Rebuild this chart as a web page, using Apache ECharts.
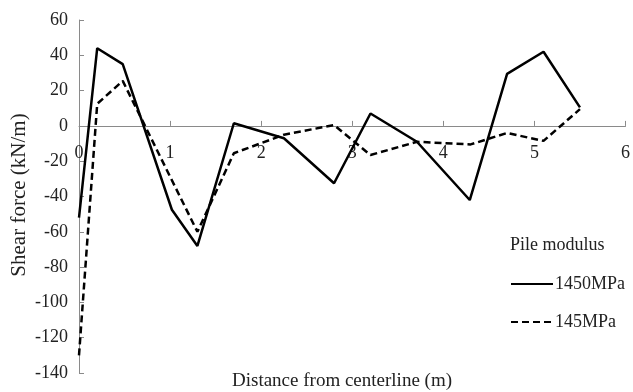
<!DOCTYPE html>
<html>
<head>
<meta charset="utf-8">
<script src="https://cdn.jsdelivr.net/npm/echarts@6/dist/echarts.min.js"></script>
<style>
  html, body { margin: 0; padding: 0; background: #fff; }
  #chart { width: 633px; height: 392px; }
</style>
</head>
<body>
<div id="chart"></div>
<script>
// Shear force along the section for two pile moduli
const distStiff = [0, 0.2, 0.48, 1.02, 1.3, 1.7, 2.25, 2.8, 3.2, 3.71, 4.29, 4.7, 5.1, 5.5];
const shearStiff = [-52, 44, 35, -47.5, -68, 1.5, -7, -32.5, 7, -9, -42, 29.5, 42, 10.5];

const distSoft = [0, 0.2, 0.48, 1.3, 1.7, 2.25, 2.8, 3.2, 3.71, 4.3, 4.7, 5.1, 5.5];
const shearSoft = [-130, 12.5, 25.5, -60, -15.5, -5, 0.5, -16.5, -9, -10.5, -4, -8.5, 9.5];

const seriesNames = ['1450MPa', '145MPa'];
const legendTitle = 'Pile modulus';
const xTitle = 'Distance from centerline (m)';
const yTitle = 'Shear force (kN/m)';

const xRange = [0, 6, 1];       // min, max, step
const yRange = [-140, 60, 20];  // min, max, step

const pairs = (xs, ys) => xs.map((x, i) => [x, ys[i]]);

const serif = '"Liberation Serif", "Times New Roman", serif';
const axisGray = '#8a8a8a';
const textColor = '#222';

const W = 633, H = 392;
const grid = { left: 79, right: 5, top: 20, bottom: 19 };
const plotH = H - grid.top - grid.bottom;
// lift the x axis from the bottom edge up to the y = 0 line
const xAxisOffset = -plotH * (0 - yRange[0]) / (yRange[1] - yRange[0]);

const chart = echarts.init(document.getElementById('chart'));
chart.setOption({
  animation: false,
  backgroundColor: '#fff',
  grid: Object.assign({ containLabel: false }, grid),
  xAxis: {
    type: 'value',
    min: xRange[0], max: xRange[1], interval: xRange[2],
    offset: xAxisOffset,
    axisLine: { onZero: false, lineStyle: { color: axisGray, width: 1 } },
    axisTick: { show: true, inside: true, length: 5, lineStyle: { color: axisGray } },
    axisLabel: { margin: 18, fontFamily: serif, fontSize: 18, color: textColor },
    splitLine: { show: false }
  },
  yAxis: {
    type: 'value',
    min: yRange[0], max: yRange[1], interval: yRange[2],
    axisLine: { show: true, onZero: false, lineStyle: { color: axisGray, width: 1 } },
    axisTick: { show: true, inside: true, length: 5, lineStyle: { color: axisGray } },
    axisLabel: { margin: 11, fontFamily: serif, fontSize: 18, color: textColor },
    splitLine: { show: false }
  },
  legend: {
    orient: 'vertical',
    left: 505, top: 270,
    itemWidth: 42, itemHeight: 14, itemGap: 20,
    data: seriesNames,
    itemStyle: { opacity: 0 },
    textStyle: { fontFamily: serif, fontSize: 18, color: textColor, padding: [0, 0, 0, -3] }
  },
  graphic: [
    {
      type: 'text', x: 510, y: 245,
      style: { text: legendTitle, font: '18px ' + serif, fill: textColor, verticalAlign: 'middle' }
    },
    {
      type: 'text', x: 342, y: 381,
      style: { text: xTitle, font: '19px ' + serif, fill: textColor, align: 'center', verticalAlign: 'middle' }
    },
    {
      type: 'text', x: 19, y: 195, rotation: Math.PI / 2,
      style: { text: yTitle, font: '21px ' + serif, fill: textColor, align: 'center', verticalAlign: 'middle' }
    }
  ],
  series: [
    {
      name: seriesNames[0], type: 'line', symbol: 'none',
      data: pairs(distStiff, shearStiff),
      lineStyle: { color: '#000', width: 2.5, type: 'solid' },
      itemStyle: { color: '#000' }
    },
    {
      name: seriesNames[1], type: 'line', symbol: 'none',
      data: pairs(distSoft, shearSoft),
      lineStyle: { color: '#000', width: 2.5, type: [7, 4] },
      itemStyle: { color: '#000' }
    }
  ]
});
</script>
</body>
</html>
